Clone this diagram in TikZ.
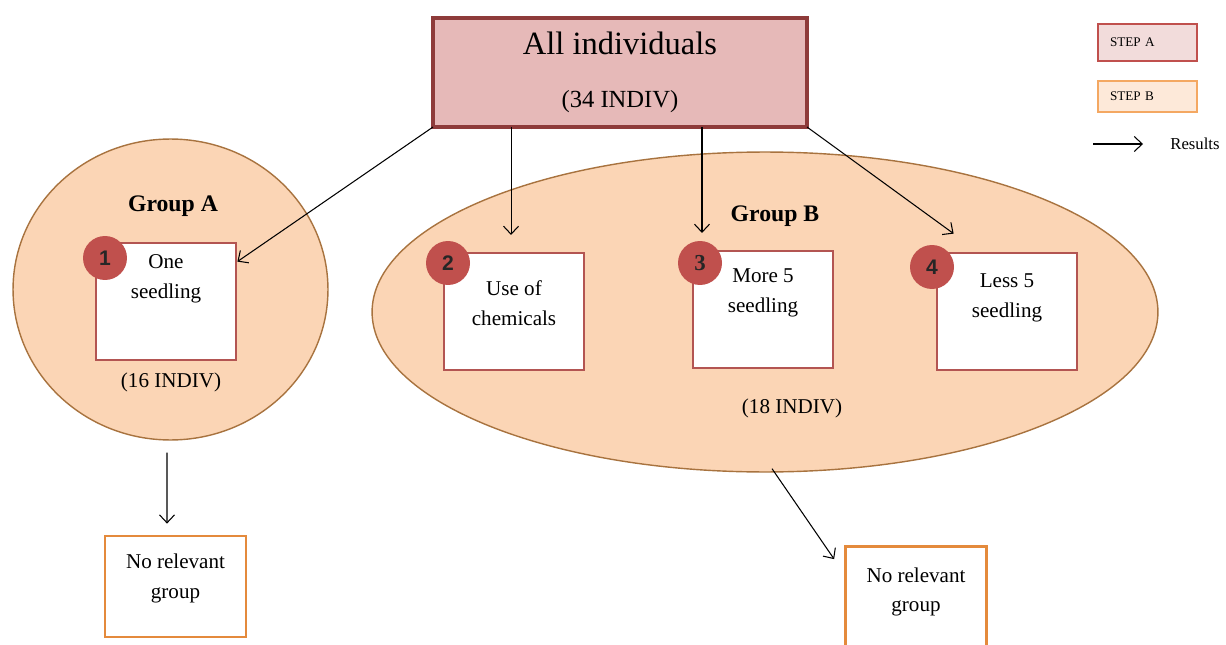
\documentclass[tikz,border=0pt]{standalone}
\usepackage{fontspec}
\setmainfont{Liberation Serif}
\setsansfont{Liberation Sans}
\usetikzlibrary{positioning,arrows.meta,shapes.geometric}

\definecolor{allfill}{HTML}{E6B9B8}
\definecolor{alldraw}{HTML}{8E3B3A}
\definecolor{badgered}{HTML}{C0504D}
\definecolor{boxred}{HTML}{B35552}
\definecolor{peach}{HTML}{FBD5B5}
\definecolor{peachdraw}{HTML}{A8733F}
\definecolor{nrorange}{HTML}{E48A3C}
\definecolor{stepafill}{HTML}{F2DCDB}
\definecolor{stepbfill}{HTML}{FDE9D9}
\definecolor{stepbdraw}{HTML}{F4A862}

\tikzset{
	groupshape/.style={ellipse, fill=peach, draw=peachdraw, line width=0.8pt},
	numbox/.style={draw=boxred, fill=white, line width=1.6pt, minimum width=2.8cm, minimum height=2.34cm},
	boxtxt/.style={align=center, inner sep=0pt, font=\fontsize{12}{17}\selectfont},
	badge/.style={circle, fill=badgered, minimum size=0.88cm, inner sep=0pt, text=black!85, font=\sffamily\bfseries\fontsize{12}{14}\selectfont},
	nrbox/.style={draw=nrorange, fill=white, line width=1.6pt, minimum width=2.82cm, minimum height=2.02cm},
	res/.style={->, line width=0.6pt},
	legbox/.style={line width=1.2pt, inner xsep=0.24cm, text width=1.5cm, align=left, font=\fontsize{7.5}{9}\selectfont}
}

\begin{document}
\begin{tikzpicture}[x=0.02cm, y=-0.02cm, >={Straight Barb[length=1.6mm,width=3mm]}]
		\useasboundingbox (0,0) rectangle (1226,645);

		% groups
		\node[groupshape, minimum width=15.72cm, minimum height=6.4cm] (gB) at (765,312) {};
		\node[groupshape, minimum width=6.3cm, minimum height=6.02cm] (gA) at (170.5,289.5) {};
		\node[font=\bfseries\fontsize{13.5}{16}\selectfont] (labA) at (173,206) {Group A};
		\node[font=\bfseries\fontsize{13.5}{16}\selectfont] (labB) at (775,216) {Group B};

		% top box
		\node[draw=alldraw, fill=allfill, line width=1.8pt, outer sep=0pt, minimum width=7.48cm, minimum height=2.18cm, align=center, font=\fontsize{18.5}{22}\selectfont] (top) at (620,72.5) {All individuals\\[8pt]{\fontsize{14}{17}\selectfont(34 INDIV)}};

		% numbered boxes
		\node[numbox] (b1) at (166,301.5) {};
		\node[numbox] (b2) at (514,311.5) {};
		\node[numbox] (b3) at (763,309.5) {};
		\node[numbox] (b4) at (1007,311.5) {};
		\node[boxtxt, below=0.26cm of b1.north] (t1) {One\\seedling};
		\node[boxtxt, below=0.58cm of b2.north] (t2) {Use of\\chemicals};
		\node[boxtxt, below=0.38cm of b3.north] (t3) {More 5\\seedling};
		\node[boxtxt, below=0.44cm of b4.north] (t4) {Less 5\\seedling};

		\node[badge] (n1) at (105,258) {1};
		\node[badge] (n2) at (448,263) {2};
		\node[badge, font=\rmfamily\bfseries\fontsize{13}{15}\selectfont] (n3) at (700,263) {3};
		\node[badge] (n4) at (932,267) {4};

		\node[font=\fontsize{12}{14}\selectfont] (cA) at (171,382) {(16 INDIV)};
		\node[font=\fontsize{12}{14}\selectfont] (cB) at (792,408) {(18 INDIV)};

		% no relevant group
		\node[nrbox] (nra) at (175.5,586.5) {};
		\node[boxtxt, below=0.38cm of nra.north] (ta) {No relevant\\group};
		\node[nrbox] (nrb) at (916,597) {};
		\node[boxtxt, below=0.44cm of nrb.north] (tb) {No relevant\\group};

		% arrows
		\draw[res] (top.south west) -- ([yshift=-0.4cm]b1.north east);
		\draw[res] ([xshift=1.56cm]top.south west) -- ([xshift=1.56cm,yshift=-2.16cm]top.south west);
		\draw[res] ([xshift=5.38cm]top.south west) -- ([xshift=5.38cm,yshift=-2.12cm]top.south west);
		\draw[res] (top.south east) -- ([xshift=0.36cm,yshift=0.36cm]b4.north west);

		\draw[res] ([xshift=-0.07cm,yshift=-0.24cm]gA.south) -- ([xshift=-0.17cm,yshift=0.22cm]nra.north);
		\draw[res] ([xshift=0.14cm,yshift=0.08cm]gB.south) -- ([xshift=-0.2cm,yshift=-0.28cm]nrb.north west);

		% legend
		\node[legbox, draw=badgered, fill=stepafill, minimum height=0.74cm] (stepa) at (1147.5,42.5) {STEP A};
		\node[legbox, draw=stepbdraw, fill=stepbfill, minimum height=0.62cm] (stepb) at (1147.5,96.5) {STEP B};
		\node[anchor=west, inner sep=0pt, font=\fontsize{9.5}{11}\selectfont] (resl) at (1170,144) {Results};
		\coordinate (resa) at (1093,144);
		\draw[res] (resa) -- ([xshift=-0.54cm]resl.west);
	\end{tikzpicture}
\end{document}
